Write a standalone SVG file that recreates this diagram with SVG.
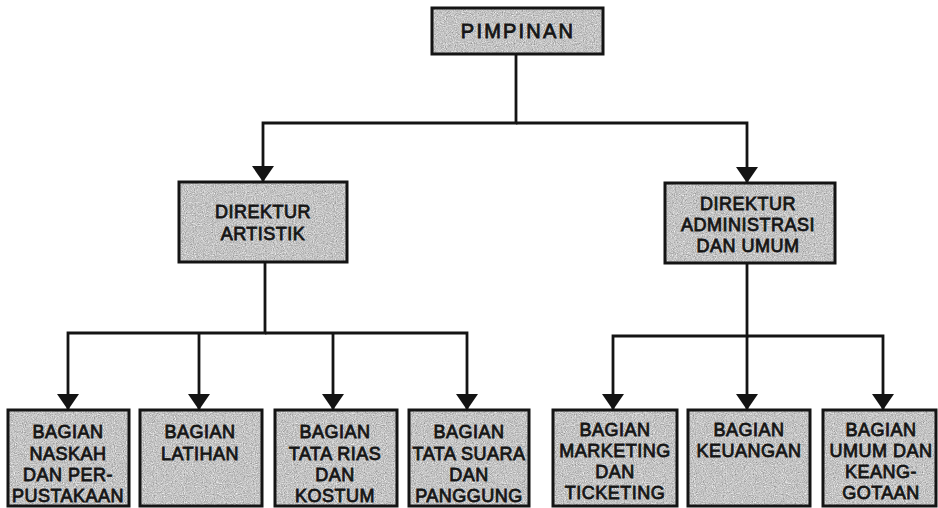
<svg xmlns="http://www.w3.org/2000/svg" width="938" height="508" viewBox="0 0 938 508">
<style>
.bg{fill:#ffffff}
.fill{fill:#c4c4c4;filter:url(#grain)}
.box{fill:none;stroke:#141414;stroke-width:3}
.t{font-family:"Liberation Sans",Arial,sans-serif;font-size:18px;fill:#151515;stroke:#151515;stroke-width:0.8;text-anchor:middle;letter-spacing:0.5px}
.big{font-size:20px;letter-spacing:2.2px}
.a{fill:none;stroke:#141414;stroke-width:2.8;marker-end:url(#arr)}
</style>
<defs>
<filter id="grain" x="0" y="0" width="1" height="1" color-interpolation-filters="sRGB">
<feTurbulence type="fractalNoise" baseFrequency="0.9" numOctaves="2" seed="7" result="n"/>
<feColorMatrix in="n" type="matrix" values="0.33 0.33 0.33 0 0 0.33 0.33 0.33 0 0 0.33 0.33 0.33 0 0 0 0 0 0 1" result="g"/>
<feComponentTransfer in="g" result="m">
<feFuncR type="linear" slope="0.9" intercept="0.32"/>
<feFuncG type="linear" slope="0.9" intercept="0.32"/>
<feFuncB type="linear" slope="0.9" intercept="0.32"/>
</feComponentTransfer>
<feComposite in="m" in2="SourceGraphic" operator="in"/>
</filter>
<marker id="arr" markerUnits="userSpaceOnUse" markerWidth="16" markerHeight="22" viewBox="0 0 16 22" refX="15" refY="11" orient="auto">
<path d="M0,0 L16,11 L0,22 Z" fill="#141414"/>
</marker>
</defs>
<rect class="bg" x="0" y="0" width="938" height="508"/>

<g id="connectors">
<path class="a" d="M516,54 V123 H263 V181"/>
<path class="a" d="M516,123 H747 V182"/>
<path class="a" d="M265,262 V333 H68 V409"/>
<path class="a" d="M265,333 H467 V409"/>
<path class="a" d="M199,333 V409"/>
<path class="a" d="M333,333 V409"/>
<path class="a" d="M747,263 V336 H613 V409"/>
<path class="a" d="M747,336 H883 V409"/>
<path class="a" d="M747,336 V409"/>
</g>

<g id="pimpinan">
<rect class="fill" x="432" y="8" width="171" height="46"/>
<rect class="box" x="432" y="8" width="171" height="46"/>
<text class="t big" x="518" y="38">PIMPINAN</text>
</g>

<g id="direktur-artistik">
<rect class="fill" x="179" y="182" width="168" height="80"/>
<rect class="box" x="179" y="182" width="168" height="80"/>
<text class="t" x="263" y="218">DIREKTUR</text>
<text class="t" x="263" y="240">ARTISTIK</text>
</g>

<g id="direktur-administrasi">
<rect class="fill" x="665" y="183" width="170" height="80"/>
<rect class="box" x="665" y="183" width="170" height="80"/>
<text class="t" x="748" y="210">DIREKTUR</text>
<text class="t" x="748" y="231">ADMINISTRASI</text>
<text class="t" x="748" y="252">DAN UMUM</text>
</g>

<g id="bagian-naskah">
<rect class="fill" x="8" y="410" width="121" height="96"/>
<rect class="box" x="8" y="410" width="121" height="96"/>
<text class="t" x="68" y="438">BAGIAN</text>
<text class="t" x="68" y="460">NASKAH</text>
<text class="t" x="68" y="481">DAN PER-</text>
<text class="t" x="68" y="502">PUSTAKAAN</text>
</g>

<g id="bagian-latihan">
<rect class="fill" x="140" y="410" width="122" height="96"/>
<rect class="box" x="140" y="410" width="122" height="96"/>
<text class="t" x="200" y="438">BAGIAN</text>
<text class="t" x="200" y="460">LATIHAN</text>
</g>

<g id="bagian-tata-rias">
<rect class="fill" x="275" y="410" width="122" height="96"/>
<rect class="box" x="275" y="410" width="122" height="96"/>
<text class="t" x="335" y="438">BAGIAN</text>
<text class="t" x="335" y="460">TATA RIAS</text>
<text class="t" x="335" y="481">DAN</text>
<text class="t" x="335" y="502">KOSTUM</text>
</g>

<g id="bagian-tata-suara">
<rect class="fill" x="409" y="410" width="120" height="96"/>
<rect class="box" x="409" y="410" width="120" height="96"/>
<text class="t" x="469" y="438">BAGIAN</text>
<text class="t" x="469" y="460">TATA SUARA</text>
<text class="t" x="469" y="481">DAN</text>
<text class="t" x="469" y="502">PANGGUNG</text>
</g>

<g id="bagian-marketing">
<rect class="fill" x="553" y="410" width="124" height="96"/>
<rect class="box" x="553" y="410" width="124" height="96"/>
<text class="t" x="615" y="436">BAGIAN</text>
<text class="t" x="615" y="457">MARKETING</text>
<text class="t" x="615" y="478">DAN</text>
<text class="t" x="615" y="499">TICKETING</text>
</g>

<g id="bagian-keuangan">
<rect class="fill" x="688" y="410" width="122" height="96"/>
<rect class="box" x="688" y="410" width="122" height="96"/>
<text class="t" x="749" y="436">BAGIAN</text>
<text class="t" x="749" y="457">KEUANGAN</text>
</g>

<g id="bagian-umum">
<rect class="fill" x="823" y="410" width="113" height="96"/>
<rect class="box" x="823" y="410" width="113" height="96"/>
<text class="t" x="881" y="436">BAGIAN</text>
<text class="t" x="881" y="457">UMUM DAN</text>
<text class="t" x="881" y="478">KEANG-</text>
<text class="t" x="881" y="499">GOTAAN</text>
</g>
</svg>
